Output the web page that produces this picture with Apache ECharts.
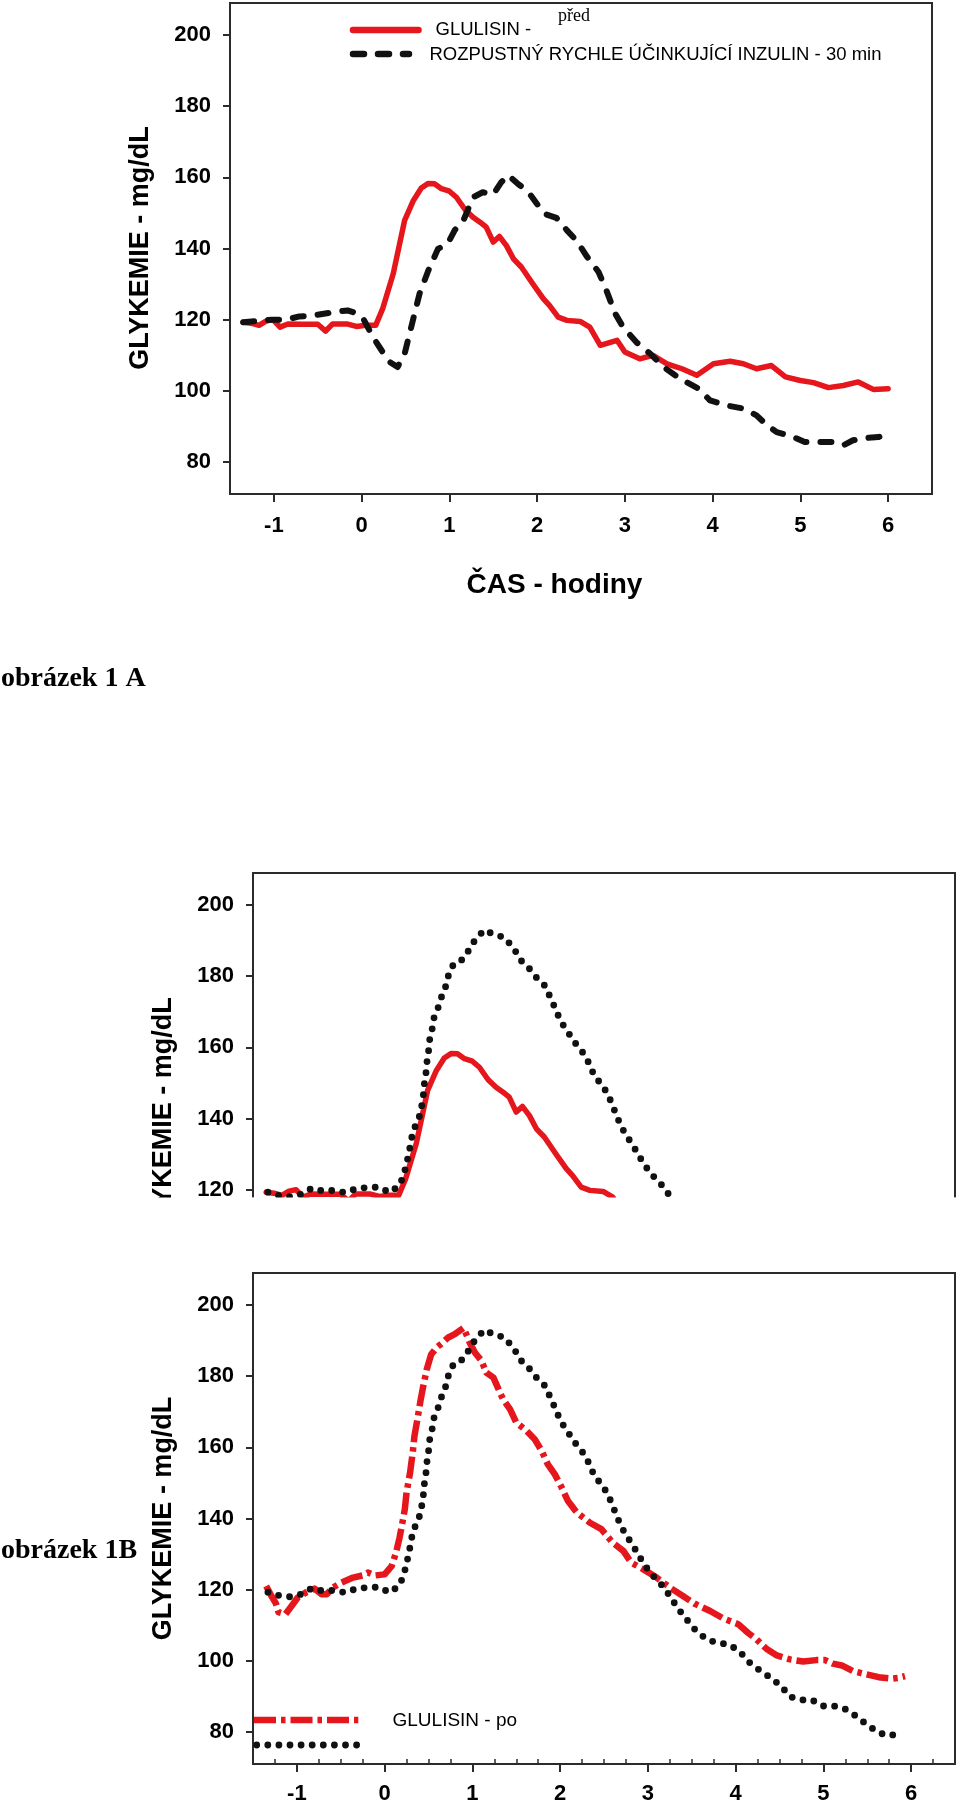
<!DOCTYPE html>
<html>
<head>
<meta charset="utf-8">
<script src="https://cdn.jsdelivr.net/npm/echarts@6/dist/echarts.min.js"></script>
<style>
html,body{margin:0;padding:0;background:#fff;}
#chart{width:960px;height:1809px;}
</style>
</head>
<body>
<div id="chart"></div>
<script>
// ---- tick labels ----
const yTicksFull = [80, 100, 120, 140, 160, 180, 200];
const yTicksTop = [120, 140, 160, 180, 200];
const xTicks = [-1, 0, 1, 2, 3, 4, 5, 6];
const xMinorTicks = [-1.25, -0.75, -0.5, -0.25, 0.25, 0.5, 0.75, 1.25, 1.5, 1.75, 2.25, 2.5, 2.75,
  3.25, 3.5, 3.75, 4.25, 4.5, 4.75, 5.25, 5.5, 5.75, 6.25];

// ---- series names / texts ----
const nameGlulisinPred = 'GLULISIN - před';
const nameRozpustny30 = 'ROZPUSTNÝ RYCHLE ÚČINKUJÍCÍ INZULIN - 30 min';
const nameRozpustnyPo = 'ROZPUSTNÝ RYCHLE ÚČINKUJÍCÍ INZULIN';
const nameGlulisinPo = 'GLULISIN - po';

// ---- data: [hours, mg/dL] ----
const glulisinPred = [[-1.35,119.3],[-1.26,119.0],[-1.17,118.4],[-1.09,119.6],[-1.01,120.0],[-0.93,117.9],
  [-0.84,118.8],[-0.67,118.7],[-0.50,118.7],[-0.41,116.8],[-0.33,118.8],[-0.17,118.8],[-0.06,118.1],
  [0.05,118.4],[0.16,118.4],[0.24,123.1],[0.36,132.9],[0.49,147.9],[0.59,153.5],[0.68,157.0],[0.76,158.3],
  [0.83,158.2],[0.91,156.8],[1.00,156.1],[1.08,154.4],[1.18,150.9],[1.27,148.8],[1.35,147.4],[1.42,146.0],
  [1.50,141.8],[1.57,143.4],[1.65,140.8],[1.73,137.1],[1.82,134.8],[1.95,130.1],[2.07,125.9],[2.14,124.0],
  [2.24,120.7],[2.34,119.8],[2.49,119.5],[2.60,117.9],[2.72,112.8],[2.91,114.2],[3.00,110.9],[3.17,109.0],
  [3.32,110.0],[3.48,107.6],[3.65,106.2],[3.82,104.4],[4.01,107.6],[4.20,108.3],[4.35,107.6],[4.50,106.2],
  [4.67,107.1],[4.83,103.9],[5.00,102.9],[5.15,102.3],[5.32,100.9],[5.49,101.5],[5.66,102.5],[5.83,100.4],
  [6.00,100.6]];

const rozpustny30 = [[-1.35,119.3],[-1.20,119.6],[-1.02,120.0],[-0.86,120.0],[-0.71,120.9],[-0.54,121.2],
  [-0.33,122.1],[-0.16,122.6],[-0.06,121.8],[0.02,120.2],[0.13,115.1],[0.24,110.9],[0.32,108.1],[0.41,106.7],
  [0.49,110.4],[0.57,118.4],[0.66,127.3],[0.76,133.8],[0.87,139.9],[0.98,141.3],[1.06,145.1],[1.16,147.9],
  [1.27,154.4],[1.38,155.8],[1.50,155.2],[1.59,158.6],[1.67,160.6],[1.79,158.0],[1.89,156.2],[2.03,151.5],
  [2.09,149.7],[2.22,148.6],[2.34,145.1],[2.45,142.2],[2.56,138.0],[2.70,133.4],[2.79,128.2],[2.89,121.7],
  [2.98,117.9],[3.13,113.7],[3.29,110.4],[3.44,106.7],[3.63,103.4],[3.84,100.6],[3.97,97.3],[4.16,95.9],
  [4.35,95.0],[4.50,93.1],[4.62,90.3],[4.73,88.4],[4.92,87.0],[5.05,85.6],[5.22,85.6],[5.38,85.6],[5.49,84.7],
  [5.60,86.1],[5.76,86.8],[5.89,87.0],[6.00,88.0]];

const rozpustnyPo = [[-1.33,119.3],[-1.21,118.4],[-1.08,118.0],[-0.95,118.7],[-0.83,120.4],[-0.70,119.6],
  [-0.58,119.8],[-0.45,119.2],[-0.32,120.3],[-0.20,120.6],[-0.07,120.7],[0.06,119.2],[0.17,121.2],[0.22,124.3],
  [0.25,127.4],[0.28,130.6],[0.30,133.7],[0.33,136.8],[0.39,140.0],[0.42,143.1],[0.44,146.2],[0.45,149.3],
  [0.47,152.4],[0.48,155.5],[0.50,158.7],[0.51,161.8],[0.54,164.9],[0.56,168.1],[0.61,171.2],[0.65,174.3],
  [0.70,177.4],[0.73,180.5],[0.79,183.6],[0.89,184.7],[0.97,187.7],[1.04,190.6],[1.14,193.0],[1.25,191.6],
  [1.36,191.0],[1.47,187.9],[1.55,184.5],[1.65,182.1],[1.74,179.3],[1.84,177.0],[1.89,173.8],[1.95,170.7],
  [2.00,167.6],[2.08,164.6],[2.17,161.3],[2.27,158.2],[2.34,155.0],[2.39,151.9],[2.49,149.1],[2.56,145.9],
  [2.61,142.9],[2.66,139.8],[2.72,136.7],[2.80,133.5],[2.88,130.4],[2.95,127.3],[3.05,124.1],[3.17,121.0],
  [3.26,117.9],[3.34,114.8],[3.44,111.7],[3.54,108.7],[3.67,106.0],[3.79,105.1],[3.92,104.6],[4.04,102.8],
  [4.15,99.7],[4.27,97.4],[4.39,95.4],[4.52,92.9],[4.62,89.9],[4.75,89.0],[4.87,89.0],[4.99,87.3],[5.12,87.3],
  [5.25,86.4],[5.37,84.5],[5.50,82.0],[5.63,79.8],[5.75,78.9],[5.88,79.8]];

const glulisinPo = [[-1.35,121.0],[-1.29,118.2],[-1.24,116.2],[-1.21,113.7],[-1.13,113.1],[-1.06,115.4],
  [-0.99,117.8],[-0.89,119.3],[-0.80,120.3],[-0.72,118.7],[-0.66,118.7],[-0.59,120.6],[-0.49,122.0],
  [-0.36,123.4],[-0.25,124.0],[-0.19,124.8],[-0.11,124.0],[0.00,124.3],[0.08,126.6],[0.13,130.4],[0.17,134.6],
  [0.21,139.8],[0.23,142.6],[0.25,147.3],[0.29,152.9],[0.32,158.5],[0.34,163.2],[0.38,168.8],[0.41,173.3],
  [0.44,177.2],[0.48,181.9],[0.53,186.1],[0.59,188.0],[0.66,189.4],[0.72,190.8],[0.80,191.8],[0.90,193.6],
  [0.97,189.4],[1.03,186.6],[1.10,184.5],[1.16,181.0],[1.24,179.6],[1.29,176.8],[1.35,173.5],[1.43,170.7],
  [1.50,167.0],[1.62,164.6],[1.71,162.3],[1.79,159.0],[1.86,155.2],[1.94,152.4],[2.01,149.1],[2.09,144.9],
  [2.19,141.7],[2.34,138.8],[2.47,137.0],[2.60,133.2],[2.72,130.9],[2.81,127.6],[2.95,125.7],[3.10,123.4],
  [3.25,120.6],[3.40,118.2],[3.53,116.1],[3.71,114.0],[3.86,111.9],[4.03,110.3],[4.14,107.9],[4.24,106.0],
  [4.35,103.4],[4.47,101.5],[4.62,100.4],[4.77,99.8],[4.92,100.2],[5.02,100.2],[5.11,99.2],[5.21,98.7],
  [5.34,97.1],[5.49,96.2],[5.63,95.4],[5.78,95.0],[5.85,95.2],[5.93,95.7]];

// ---- styling ----
const SANS = '"Liberation Sans", Arial, Helvetica, sans-serif';
const SERIF = '"Liberation Serif", "Times New Roman", serif';
const RED = '#e5161c';
const BLACK = '#111111';
const AXIS = '#2b2b2b';
const DOTS = [0, 11.1];
const DASHES = [11, 14];
const DASHDOT = [22, 5, 4.5, 5];

const labelStyle = { color: '#000', fontSize: 22, fontWeight: 'bold', fontFamily: SANS };

function yAxisMain(gridIndex, min, ticks) {
  return {
    type: 'value', gridIndex, min, max: 209, position: 'left',
    axisLine: { show: true, onZero: false, lineStyle: { color: AXIS, width: 2 } },
    axisTick: { show: true, customValues: ticks, length: 7, lineStyle: { color: AXIS, width: 2 } },
    axisLabel: Object.assign({ customValues: ticks, margin: 19 }, labelStyle),
    splitLine: { show: false }
  };
}
function yAxisBorder(gridIndex, min) {
  return {
    type: 'value', gridIndex, min, max: 209, position: 'right',
    axisLine: { show: true, onZero: false, lineStyle: { color: AXIS, width: 2 } },
    axisTick: { show: false }, axisLabel: { show: false }, splitLine: { show: false }
  };
}
function xAxisMain(gridIndex, margin, showTicks) {
  return {
    type: 'value', gridIndex, min: -1.5, max: 6.5, position: 'bottom',
    axisLine: { show: true, onZero: false, lineStyle: { color: AXIS, width: 2 } },
    axisTick: { show: showTicks, customValues: xTicks, length: 8, lineStyle: { color: AXIS, width: 2 } },
    axisLabel: Object.assign({ show: showTicks, customValues: xTicks, margin }, labelStyle),
    splitLine: { show: false }
  };
}

const top2Min = 209 - 324 / (491 / 138);

const option = {
  animation: false,
  backgroundColor: '#ffffff',
  grid: [
    { left: 230, top: 3, width: 702, height: 491, show: true, borderColor: AXIS, borderWidth: 2, backgroundColor: 'transparent' },
    { left: 253, top: 873, width: 702, height: 324, show: false },
    { left: 253, top: 1273, width: 702, height: 491, show: true, borderColor: AXIS, borderWidth: 2, backgroundColor: 'transparent' }
  ],
  xAxis: [
    xAxisMain(0, 21, true),
    {
      type: 'value', gridIndex: 1, min: -1.5, max: 6.5, position: 'top',
      axisLine: { show: true, onZero: false, lineStyle: { color: AXIS, width: 2 } },
      axisTick: { show: false }, axisLabel: { show: false }, splitLine: { show: false }
    },
    xAxisMain(2, 19, true),
    {
      type: 'value', gridIndex: 2, min: -1.5, max: 6.5, position: 'bottom',
      axisLine: { show: false },
      axisTick: { show: true, inside: true, customValues: xMinorTicks, length: 5, lineStyle: { color: AXIS, width: 1.5 } },
      axisLabel: { show: false }, splitLine: { show: false }
    }
  ],
  yAxis: [
    yAxisMain(0, 71, yTicksFull),
    yAxisMain(1, top2Min, yTicksTop),
    yAxisBorder(1, top2Min),
    yAxisMain(2, 71, yTicksFull)
  ],
  series: [
    { name: nameGlulisinPred, type: 'line', xAxisIndex: 0, yAxisIndex: 0, data: glulisinPred,
      symbol: 'none', lineStyle: { color: RED, width: 5.5, join: 'round', cap: 'round' }, z: 3 },
    { name: nameRozpustny30, type: 'line', xAxisIndex: 0, yAxisIndex: 0, data: rozpustny30,
      symbol: 'none', lineStyle: { color: BLACK, width: 6, type: DASHES, cap: 'round', join: 'round' }, z: 4 },
    { name: nameGlulisinPred, type: 'line', xAxisIndex: 1, yAxisIndex: 1, data: glulisinPred,
      symbol: 'none', lineStyle: { color: RED, width: 5.5, join: 'round', cap: 'round' }, z: 3 },
    { name: nameRozpustnyPo, type: 'line', xAxisIndex: 1, yAxisIndex: 1, data: rozpustnyPo,
      symbol: 'none', lineStyle: { color: BLACK, width: 6.8, type: DOTS, cap: 'round' }, z: 4 },
    { name: nameGlulisinPo, type: 'line', xAxisIndex: 2, yAxisIndex: 3, data: glulisinPo,
      symbol: 'none', lineStyle: { color: RED, width: 6.5, type: DASHDOT, cap: 'butt', join: 'round' }, z: 3 },
    { name: nameRozpustnyPo, type: 'line', xAxisIndex: 2, yAxisIndex: 3, data: rozpustnyPo,
      symbol: 'none', lineStyle: { color: BLACK, width: 6.8, type: DOTS, cap: 'round' }, z: 4 }
  ],
  graphic: [
    // legend panel A
    { type: 'line', shape: { x1: 353, y1: 30, x2: 418.5, y2: 30 }, style: { stroke: RED, lineWidth: 6.5, lineCap: 'round' }, z: 50 },
    { type: 'line', shape: { x1: 353, y1: 54, x2: 409, y2: 54 }, style: { stroke: BLACK, lineWidth: 6.5, lineCap: 'round', lineDash: DASHES }, z: 50 },
    { type: 'text', x: 435.5, y: 30.3, style: { text: 'GLULISIN -', fill: '#000', fontSize: 18.5, fontFamily: SANS, align: 'left', verticalAlign: 'middle' }, z: 50 },
    { type: 'text', x: 558, y: 16.7, style: { text: 'před', fill: '#000', fontSize: 18, fontFamily: SERIF, align: 'left', verticalAlign: 'middle' }, z: 50 },
    { type: 'text', x: 429.5, y: 55.3, style: { text: nameRozpustny30, fill: '#000', fontSize: 18.5, fontFamily: SANS, align: 'left', verticalAlign: 'middle' }, z: 50 },
    // axis titles panel A
    { type: 'text', x: 140.2, y: 248, rotation: Math.PI / 2, style: { text: 'GLYKEMIE - mg/dL', fill: '#000', fontSize: 27, fontWeight: 'bold', fontFamily: SANS, align: 'center', verticalAlign: 'middle' }, z: 50 },
    { type: 'text', x: 554.5, y: 585, style: { text: 'ČAS - hodiny', fill: '#000', fontSize: 28, fontWeight: 'bold', fontFamily: SANS, align: 'center', verticalAlign: 'middle' }, z: 50 },
    { type: 'text', x: 1, y: 679, style: { text: 'obrázek 1 A', fill: '#000', fontSize: 28, fontWeight: 'bold', fontFamily: SERIF, align: 'left', verticalAlign: 'middle' }, z: 50 },
    // panel 2 title (clipped by the sheet edge below)
    { type: 'text', x: 163.5, y: 1119, rotation: Math.PI / 2, style: { text: 'GLYKEMIE - mg/dL', fill: '#000', fontSize: 27, fontWeight: 'bold', fontFamily: SANS, align: 'center', verticalAlign: 'middle' }, z: 50 },
    { type: 'rect', shape: { x: 0, y: 1197.5, width: 960, height: 72 }, style: { fill: '#ffffff' }, z: 200, silent: true },
    // panel B
    { type: 'text', x: 163.5, y: 1518.4, rotation: Math.PI / 2, style: { text: 'GLYKEMIE - mg/dL', fill: '#000', fontSize: 27, fontWeight: 'bold', fontFamily: SANS, align: 'center', verticalAlign: 'middle' }, z: 50 },
    { type: 'text', x: 1, y: 1551, style: { text: 'obrázek 1B', fill: '#000', fontSize: 28, fontWeight: 'bold', fontFamily: SERIF, align: 'left', verticalAlign: 'middle' }, z: 50 },
    { type: 'line', shape: { x1: 254, y1: 1720, x2: 358.3, y2: 1720 }, style: { stroke: RED, lineWidth: 6.5, lineCap: 'butt', lineDash: DASHDOT }, z: 50 },
    { type: 'line', shape: { x1: 256.7, y1: 1745, x2: 357, y2: 1745 }, style: { stroke: BLACK, lineWidth: 6.8, lineCap: 'round', lineDash: DOTS }, z: 50 },
    { type: 'text', x: 392.5, y: 1720.7, style: { text: nameGlulisinPo, fill: '#000', fontSize: 19, fontFamily: SANS, align: 'left', verticalAlign: 'middle' }, z: 50 }
  ]
};

const chart = echarts.init(document.getElementById('chart'), null, { renderer: 'canvas', width: 960, height: 1809 });
chart.setOption(option);
</script>
</body>
</html>
